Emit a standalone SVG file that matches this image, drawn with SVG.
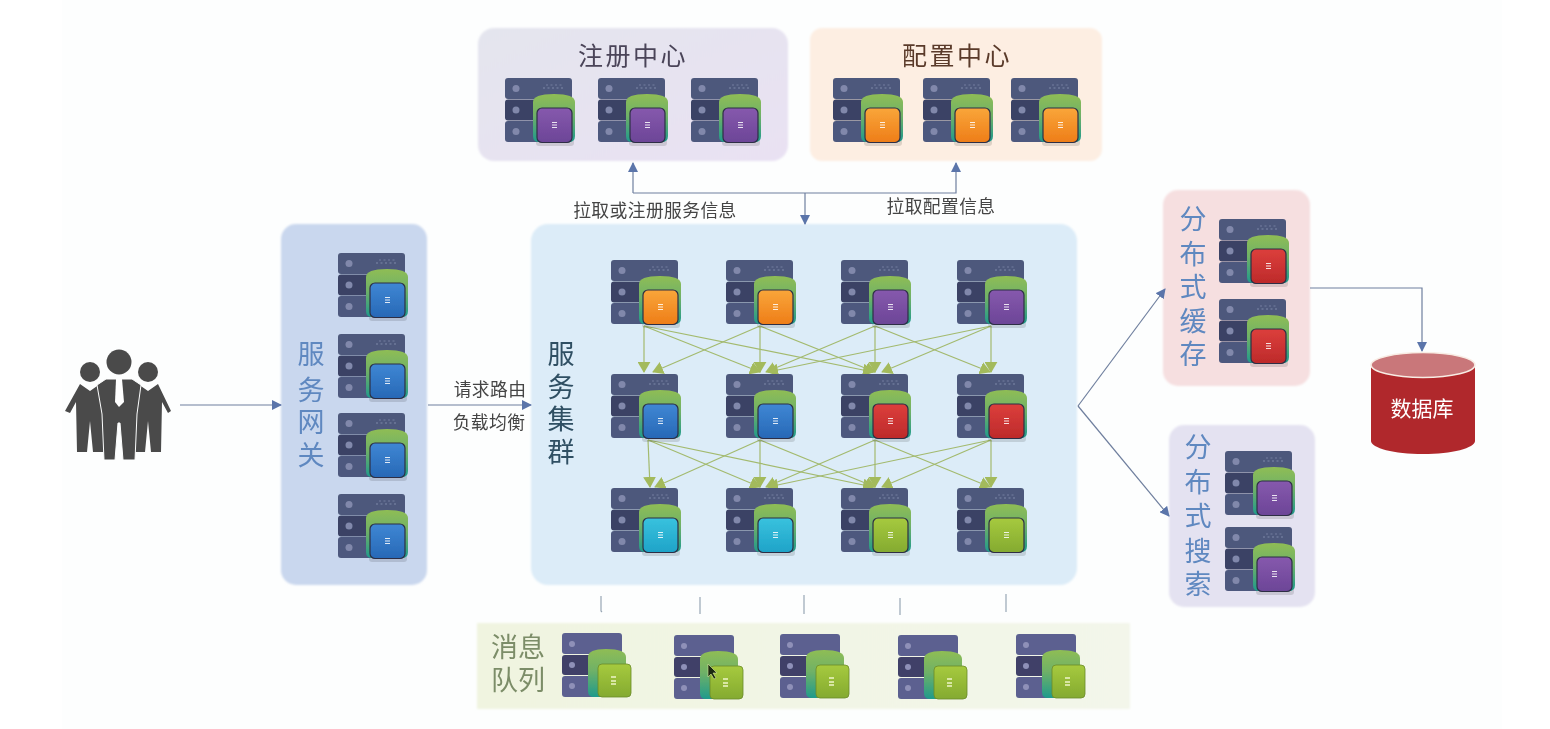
<svg xmlns="http://www.w3.org/2000/svg" width="1550" height="729" viewBox="0 0 1550 729">
<style>
text{font-family:"Noto Sans CJK SC","Noto Sans",sans-serif;text-anchor:middle}
.t{font-size:27px;fill:#5f88c0}
.h{font-size:25px;letter-spacing:2.5px}
.s{font-size:17.8px;fill:#454545;letter-spacing:.4px}
.c{fill:none;stroke:#6f7f9e;stroke-width:1.2}
.g{fill:none;stroke:#a3ba6e;stroke-width:1.2;marker-end:url(#ag)}
.tick{fill:none;stroke:#98a6b4;stroke-width:1.2}
.orange{fill:url(#go)}.purple{fill:url(#gp)}.blue{fill:url(#gb)}.red{fill:url(#gr)}.cyan{fill:url(#gc)}.green{fill:url(#gg)}
.icons{filter:url(#soft)}
</style>
<defs>
<filter id="soft" x="-2%" y="-2%" width="104%" height="104%"><feGaussianBlur stdDeviation=".5"/></filter>
<filter id="softer" x="-2%" y="-2%" width="104%" height="104%"><feGaussianBlur stdDeviation="1"/></filter>
<marker id="ab" viewBox="0 0 10 10" refX="9" refY="5" markerWidth="10" markerHeight="10" markerUnits="userSpaceOnUse" orient="auto"><path d="M0 0L10 5L0 10z" fill="#5b75aa"/></marker>
<marker id="ag" viewBox="0 0 12 14" refX="11" refY="7" markerWidth="11" markerHeight="13" markerUnits="userSpaceOnUse" orient="auto"><path d="M0 0L12 7L0 14z" fill="#a3ba5c"/></marker>
<linearGradient id="go" x1="0" y1="0" x2="0" y2="1"><stop offset="0" stop-color="#f9a63a"/><stop offset="1" stop-color="#ee7d18"/></linearGradient>
<linearGradient id="gp" x1="0" y1="0" x2="0" y2="1"><stop offset="0" stop-color="#8659ad"/><stop offset="1" stop-color="#6c4597"/></linearGradient>
<linearGradient id="gb" x1="0" y1="0" x2="0" y2="1"><stop offset="0" stop-color="#3f87d4"/><stop offset="1" stop-color="#2768b6"/></linearGradient>
<linearGradient id="gr" x1="0" y1="0" x2="0" y2="1"><stop offset="0" stop-color="#dc3f3c"/><stop offset="1" stop-color="#bd2a2a"/></linearGradient>
<linearGradient id="gc" x1="0" y1="0" x2="0" y2="1"><stop offset="0" stop-color="#39c2de"/><stop offset="1" stop-color="#1ea3c8"/></linearGradient>
<linearGradient id="gg" x1="0" y1="0" x2="0" y2="1"><stop offset="0" stop-color="#a6ca3e"/><stop offset="1" stop-color="#84aa30"/></linearGradient>
<linearGradient id="can" x1="0" y1="0" x2="0" y2="1"><stop offset="0" stop-color="#8fbd55"/><stop offset=".45" stop-color="#6fb167"/><stop offset="1" stop-color="#1f9a8c"/></linearGradient>
<linearGradient id="panelR" x1="0" y1="0" x2="1" y2="1"><stop offset="0" stop-color="#e4e5ee"/><stop offset="1" stop-color="#e9e1f3"/></linearGradient>
<linearGradient id="panelQ" x1="0" y1="0" x2="1" y2="0"><stop offset="0" stop-color="#f0f4e0"/><stop offset="1" stop-color="#f3f6ea"/></linearGradient>
<g id="base">
<rect x="0" y="0" width="67" height="21" rx="3" fill="#4d597c"/>
<rect x="0" y="21.500" width="67" height="21" rx="3" fill="#3a4365"/>
<rect x="0" y="43" width="67" height="21" rx="3" fill="#4d597e"/>
<circle cx="11" cy="10.500" r="3.500" fill="#8188ab"/><circle cx="11" cy="32" r="3.500" fill="#8188ab"/><circle cx="11" cy="53.500" r="3.500" fill="#8188ab"/>
<path d="M38 10h22" stroke="#7f88a8" stroke-width="1" stroke-dasharray="2 2.500"/>
<path d="M41 7h18" stroke="#7f88a8" stroke-width=".8" stroke-dasharray="2 2.500"/>
</g>
<g id="srv">
<use href="#base"/>
<rect x="31" y="61" width="38" height="7" rx="3" fill="#000" opacity=".12"/>
<path d="M28 24Q28 16 49 16Q70 16 70 24V58Q70 64 64 64H34Q28 64 28 58z" fill="url(#can)"/>
<rect x="32" y="30" width="35" height="34.500" rx="5" stroke="#2d2f45" stroke-width="1.200"/>
<path d="M47 44.500h5M47 47h5M47 49.500h5" stroke="#fff" stroke-width="1.200" opacity=".85"/>
</g>
<g id="srvq">
<rect x="0" y="0" width="60" height="21" rx="3" fill="#5b6190"/>
<rect x="0" y="22" width="60" height="20" rx="3" fill="#3f4168"/>
<rect x="0" y="43" width="60" height="21" rx="3" fill="#5b6190"/>
<circle cx="10" cy="11" r="3" fill="#8f90b8"/><circle cx="10" cy="32" r="3" fill="#8f90b8"/><circle cx="10" cy="53" r="3" fill="#8f90b8"/>
<path d="M26 24Q26 16 44 16Q64 16 64 24V58Q64 64 58 64H32Q26 64 26 58z" fill="url(#can)"/>
<rect x="36" y="31" width="33" height="33" rx="4" stroke="#6b8a2a" stroke-width=".8"/>
<path d="M49 44h5M49 48h5M49 51h5" stroke="#eef5c8" stroke-width="1.300"/>
</g>
</defs>

<rect width="1550" height="729" fill="#fff"/>
<rect x="62" y="0" width="1440" height="729" fill="#fdfefe"/>

<g id="panels" filter="url(#softer)">
<rect id="p-registry" x="478" y="28" width="310" height="133" rx="16" fill="url(#panelR)"/>
<rect id="p-config" x="810" y="28" width="292" height="133" rx="12" fill="#fdeee2"/>
<rect id="p-gateway" x="281" y="224" width="146" height="361" rx="15" fill="#c9d7ee"/>
<rect id="p-cluster" x="531" y="224" width="546" height="361" rx="17" fill="#dcecf8"/>
<rect id="p-cache" x="1163" y="190" width="147" height="196" rx="15" fill="#f6dfe0"/>
<rect id="p-search" x="1169" y="425" width="146" height="182" rx="15" fill="#e4e2f1"/>
<rect id="p-mq" x="477" y="623" width="653" height="86" fill="url(#panelQ)"/>
</g>

<g id="connectors">
<path class="c" d="M633 193V163" marker-end="url(#ab)"/>
<path class="c" d="M633 193H956V163" marker-end="url(#ab)"/>
<path class="c" d="M805 193V224" marker-end="url(#ab)"/>
<path class="c" d="M180 405H281" marker-end="url(#ab)"/>
<path class="c" d="M428 405H531" marker-end="url(#ab)"/>
<path class="c" d="M1078 406L1165 289" marker-end="url(#ab)"/>
<path class="c" d="M1078 406L1169 516" marker-end="url(#ab)"/>
<path class="c" d="M1310 288H1422V351" marker-end="url(#ab)"/>
<path class="g" d="M644 326V372"/><path class="g" d="M644 326L760 372"/><path class="g" d="M644 326L873 372"/>
<path class="g" d="M760 326L653 372"/><path class="g" d="M760 326V372"/><path class="g" d="M760 326L875 372"/>
<path class="g" d="M875 326L766 372"/><path class="g" d="M875 326V372"/><path class="g" d="M875 326L990 372"/>
<path class="g" d="M991 326L768 372"/><path class="g" d="M991 326L882 372"/><path class="g" d="M991 326V372"/>
<path class="g" d="M648 440L650 487"/><path class="g" d="M648 440L760 487"/><path class="g" d="M648 440L873 487"/>
<path class="g" d="M760 440L655 487"/><path class="g" d="M760 440V487"/><path class="g" d="M760 440L875 487"/>
<path class="g" d="M875 440L766 487"/><path class="g" d="M875 440V487"/><path class="g" d="M875 440L990 487"/>
<path class="g" d="M991 440L768 487"/><path class="g" d="M991 440L882 487"/><path class="g" d="M991 440V487"/>
<path class="tick" d="M601 596V611l1 1"/><path class="tick" d="M700 597V614"/><path class="tick" d="M804 595V614"/><path class="tick" d="M900 598V615"/><path class="tick" d="M1006 594V612"/>
</g>

<g id="users" fill="#4a4a4a">
<circle cx="90" cy="372" r="10"/><circle cx="148" cy="372" r="10"/>
<path d="M80 384L90 391L100 384L112 384L112 423L103 452H93L90 421L87 452H77L76 402L70 413L65 411z"/>
<path d="M158 384L148 391L138 384L126 384L126 423L135 452H145L148 421L151 452H161L162 402L168 413L171 411z"/>
<path d="M106 379H132L141 385L137 414L135 460H123L120 423H118L115 460H104L102 414L97 385z" stroke="#fdfefe" stroke-width="1"/>
<circle cx="119" cy="362" r="12.500"/>
<path d="M116 379H122L124 402L119 407L115 402z" fill="#fff"/>
</g>

<g class="icons">
<g id="registry"><g id="reg-1" class="purple" transform="translate(505 78)"><use href="#srv"/></g><g id="reg-2" class="purple" transform="translate(598 78)"><use href="#srv"/></g><g id="reg-3" class="purple" transform="translate(691 78)"><use href="#srv"/></g></g>
<g id="config"><g id="cfg-1" class="orange" transform="translate(833 78)"><use href="#srv"/></g><g id="cfg-2" class="orange" transform="translate(923 78)"><use href="#srv"/></g><g id="cfg-3" class="orange" transform="translate(1011 78)"><use href="#srv"/></g></g>
<g id="gateway"><g id="gw-1" class="blue" transform="translate(338 253)"><use href="#srv"/></g><g id="gw-2" class="blue" transform="translate(338 334)"><use href="#srv"/></g><g id="gw-3" class="blue" transform="translate(338 413)"><use href="#srv"/></g><g id="gw-4" class="blue" transform="translate(338 494)"><use href="#srv"/></g></g>
<g id="cluster">
<g id="c11" class="orange" transform="translate(611 260)"><use href="#srv"/></g><g id="c12" class="orange" transform="translate(726 260)"><use href="#srv"/></g><g id="c13" class="purple" transform="translate(841 260)"><use href="#srv"/></g><g id="c14" class="purple" transform="translate(957 260)"><use href="#srv"/></g>
<g id="c21" class="blue" transform="translate(611 374)"><use href="#srv"/></g><g id="c22" class="blue" transform="translate(726 374)"><use href="#srv"/></g><g id="c23" class="red" transform="translate(841 374)"><use href="#srv"/></g><g id="c24" class="red" transform="translate(957 374)"><use href="#srv"/></g>
<g id="c31" class="cyan" transform="translate(611 488)"><use href="#srv"/></g><g id="c32" class="cyan" transform="translate(726 488)"><use href="#srv"/></g><g id="c33" class="green" transform="translate(841 488)"><use href="#srv"/></g><g id="c34" class="green" transform="translate(957 488)"><use href="#srv"/></g>
</g>
<g id="cache"><g id="ca-1" class="red" transform="translate(1219 219)"><use href="#srv"/></g><g id="ca-2" class="red" transform="translate(1219 299)"><use href="#srv"/></g></g>
<g id="search"><g id="se-1" class="purple" transform="translate(1225 451)"><use href="#srv"/></g><g id="se-2" class="purple" transform="translate(1225 527)"><use href="#srv"/></g></g>
<g id="mq"><g id="mq-1" class="green" transform="translate(562 633)"><use href="#srvq"/></g><g id="mq-2" class="green" transform="translate(674 635)"><use href="#srvq"/></g><g id="mq-3" class="green" transform="translate(780 634)"><use href="#srvq"/></g><g id="mq-4" class="green" transform="translate(898 635)"><use href="#srvq"/></g><g id="mq-5" class="green" transform="translate(1016 634)"><use href="#srvq"/></g></g>
</g>

<g id="database">
<path d="M1371 365V441C1371 448 1394 454 1423 454S1475 448 1475 441V365z" fill="#b0282c"/>
<ellipse cx="1423" cy="365" rx="52" ry="12.500" fill="#c9777a" stroke="#f8ece4" stroke-width="1.500"/>
<text x="1422" y="416" font-size="21" fill="#fff">数据库</text>
</g>

<path id="cursor" d="M708 664l0 13 3-3 3 5 2-1-3-5 4 0z" fill="#1c2a10" stroke="#d8e8a0" stroke-width=".6"/>

<g id="labels">
<text class="h" x="633" y="65" fill="#4a4458">注册中心</text>
<text class="h" x="957" y="65" fill="#5a3a2a">配置中心</text>
<text class="s" x="655" y="217">拉取或注册服务信息</text>
<text class="s" x="941" y="213">拉取配置信息</text>
<text class="s" x="490" y="396">请求路由</text>
<text class="s" x="489" y="429">负载均衡</text>
<text class="t" x="311"><tspan x="311" y="364">服</tspan><tspan x="311" y="400">务</tspan><tspan x="311" y="432">网</tspan><tspan x="311" y="465">关</tspan></text>
<text class="t" x="561" style="fill:#2f4f63"><tspan x="561" y="364">服</tspan><tspan x="561" y="397">务</tspan><tspan x="561" y="429">集</tspan><tspan x="561" y="462">群</tspan></text>
<text class="t"><tspan x="1193" y="229">分</tspan><tspan x="1193" y="264">布</tspan><tspan x="1193" y="297">式</tspan><tspan x="1193" y="331">缓</tspan><tspan x="1193" y="364">存</tspan></text>
<text class="t"><tspan x="1198" y="457">分</tspan><tspan x="1198" y="492">布</tspan><tspan x="1198" y="526">式</tspan><tspan x="1198" y="561">搜</tspan><tspan x="1198" y="594">索</tspan></text>
<text class="t" style="fill:#7c8d68"><tspan x="518" y="657">消息</tspan><tspan x="518" y="690">队列</tspan></text>
</g>
</svg>
